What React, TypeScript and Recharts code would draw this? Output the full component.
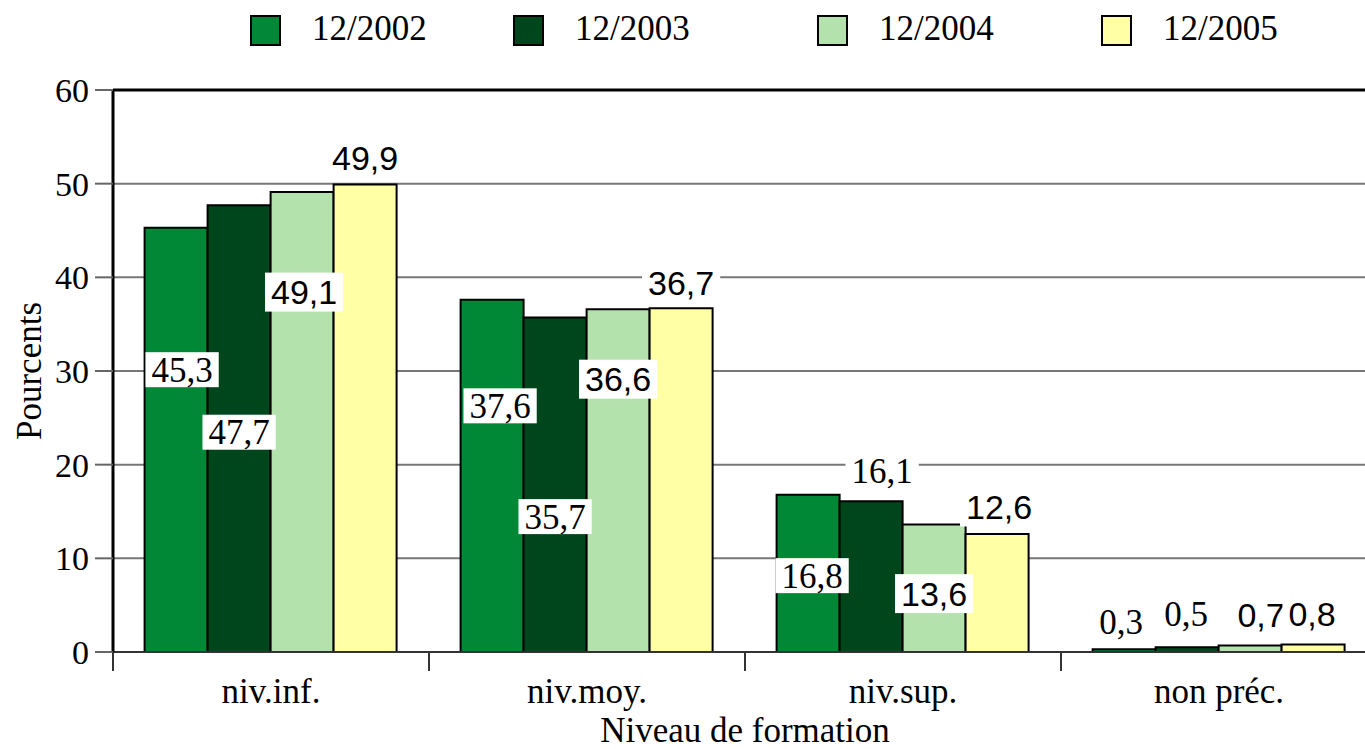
import {
  BarChart, Bar, XAxis, YAxis, CartesianGrid, Legend, LabelList, ReferenceLine,
} from 'recharts'

const CATEGORIES = ['niv.inf.', 'niv.moy.', 'niv.sup.', 'non préc.']
const YEARS = ['12/2002', '12/2003', '12/2004', '12/2005']
const S2002 = [45.3, 37.6, 16.8, 0.3]
const S2003 = [47.7, 35.7, 16.1, 0.5]
const S2004 = [49.1, 36.6, 13.6, 0.7]
const S2005 = [49.9, 36.7, 12.6, 0.8]
const Y_TICKS = [0, 10, 20, 30, 40, 50, 60]

const SERIES = [S2002, S2003, S2004, S2005]
const KEYS = ['a', 'b', 'c', 'd']
const COLORS = ['#008837', '#00461c', '#b3e2ad', '#ffffa6']

// where each value label sits: [dx from bar centre, dy from bar top]
const LABEL_SPOTS = [
  [[6, 142], [8, 106], [4, 81], [-3, -27]],
  [[0, 227], [0, 199], [11, -30], [-1, -34]],
  [[2, 100], [0, 70], [0, 69], [11, -30]],
  [[0, -27], [0, -25], [2, -27], [-1, -30]],
]
const LEGEND_X = [250, 513, 817, 1101]

const SERIF = '"Liberation Serif", "Times New Roman", serif'
const SANS = '"Liberation Sans", Arial, sans-serif'

const W = 1377
const H = 749
const Y_AXIS_W = 113
const BAND = (W - Y_AXIS_W) / CATEGORIES.length

const data = CATEGORIES.map((cat, i) => {
  const row: Record<string, string | number> = { cat }
  KEYS.forEach((k, s) => { row[k] = SERIES[s][i] })
  return row
})

function makeLabel(s: number) {
  const serif = s < 2
  const fs = serif ? 35 : 34
  return (props: any) => {
    const { x, y, width, value, index } = props
    const [dx, dy] = LABEL_SPOTS[s][index]
    const txt = String(value).replace('.', ',')
    const tw = serif
      ? txt.length * 0.5 * fs - 0.25 * fs
      : (txt.length - 1) * 0.556 * fs + 0.278 * fs
    const boxW = tw + 12
    const boxH = serif ? 35 : 39
    const cx = Number(x) + Number(width) / 2 + dx
    const cy = Number(y) + dy
    return (
      <g>
        <rect x={cx - boxW / 2} y={cy - boxH / 2} width={boxW} height={boxH} fill="#fff" />
        <text x={cx} y={cy + 0.35 * fs} textAnchor="middle" fontSize={fs} fontFamily={serif ? SERIF : SANS} fill="#000">
          {txt}
        </text>
      </g>
    )
  }
}

function CatTick(props: any) {
  const { x, y, payload } = props
  return (
    <g>
      <line x1={x - BAND / 2} x2={x - BAND / 2} y1={y} y2={y + 19} stroke="#333" strokeWidth={2} />
      <text x={x} y={y + 51} textAnchor="middle" fontSize={35} fontFamily={SERIF} fill="#000">
        {payload.value}
      </text>
    </g>
  )
}

function LegendBox() {
  return (
    <div style={{ position: 'relative', width: W, height: 90 }}>
      {YEARS.map((yr, i) => (
        <div key={yr}>
          <div style={{
            position: 'absolute', left: LEGEND_X[i], top: 15, width: 31, height: 31,
            boxSizing: 'border-box', border: '2px solid #000', background: COLORS[i],
          }} />
          <div style={{
            position: 'absolute', left: LEGEND_X[i] + 62, top: 11, fontSize: 35,
            lineHeight: '35px', fontFamily: SERIF, color: '#000', whiteSpace: 'nowrap',
          }}>
            {yr}
          </div>
        </div>
      ))}
    </div>
  )
}

export default function App() {
  return (
    <div style={{ position: 'absolute', left: 0, top: 0, width: 1365, height: 749, overflow: 'hidden', background: '#fff' }}>
      <BarChart
        width={W}
        height={H}
        data={data}
        margin={{ top: 0, right: 0, bottom: 0, left: 0 }}
        barCategoryGap="10%"
        barGap={0}
      >
        <Legend
          verticalAlign="top"
          content={() => <LegendBox />}
          wrapperStyle={{ left: 0, top: 0, width: W }}
        />
        <CartesianGrid vertical={false} stroke="#777" strokeWidth={2} />
        <XAxis
          dataKey="cat"
          height={97}
          tickSize={0}
          tickMargin={0}
          tickLine={false}
          axisLine={{ stroke: '#333', strokeWidth: 2 }}
          tick={<CatTick />}
          interval={0}
          label={{ value: 'Niveau de formation', position: 'insideBottom', offset: 7, fontSize: 35, fontFamily: SERIF, fill: '#000' }}
        />
        <XAxis xAxisId="ov" dataKey="cat" hide />
        <YAxis
          width={Y_AXIS_W}
          domain={[0, 60]}
          ticks={Y_TICKS}
          interval={0}
          tickSize={18}
          tickMargin={6}
          axisLine={{ stroke: '#000', strokeWidth: 3 }}
          tickLine={{ stroke: '#666', strokeWidth: 2 }}
          tick={{ fontSize: 34, fontFamily: SERIF, fill: '#000' }}
          label={(p: any) => {
            const vb = p.viewBox
            const cy = vb.y + vb.height / 2
            return (
              <text x={29} y={cy} transform={`rotate(-90, 29, ${cy})`} textAnchor="middle" dominantBaseline="central" fontSize={35} fontFamily={SERIF} fill="#000">
                Pourcents
              </text>
            )
          }}
        />
        <ReferenceLine y={60} stroke="#000" strokeWidth={3} />
        {KEYS.map((k, s) => (
          <Bar key={k} dataKey={k} fill={COLORS[s]} stroke="#000" strokeWidth={2} isAnimationActive={false} />
        ))}
        {KEYS.map((k, s) => (
          <Bar key={`ov-${k}`} xAxisId="ov" dataKey={k} fill="none" stroke="none" isAnimationActive={false} legendType="none">
            <LabelList dataKey={k} content={makeLabel(s)} />
          </Bar>
        ))}
      </BarChart>
    </div>
  )
}
